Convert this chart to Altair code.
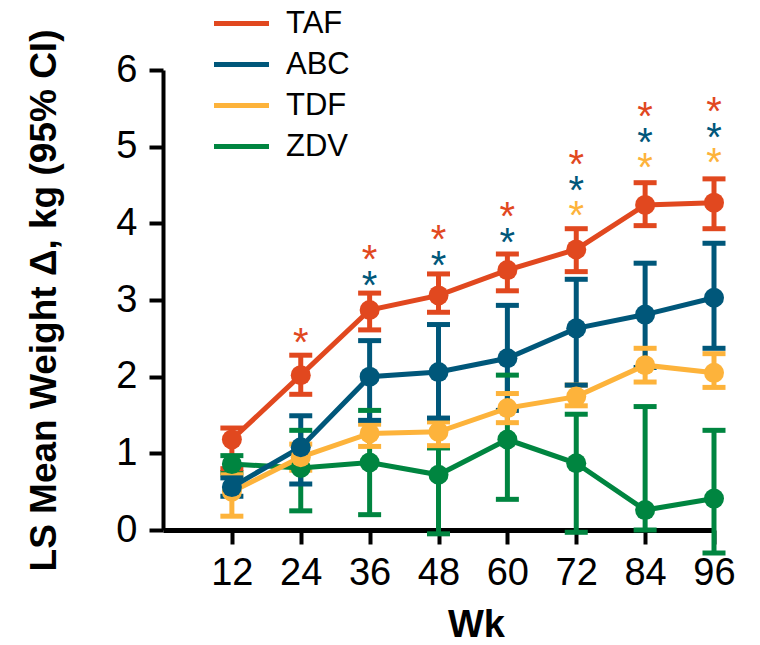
import altair as alt
import pandas as pd

# ---- data ----
weeks = [12, 24, 36, 48, 60, 72, 84, 96]
series = ["TAF", "ABC", "TDF", "ZDV"]
colors = ["#E1481F", "#00577A", "#FDB33B", "#008540"]

taf_mean = [1.18, 2.02, 2.87, 3.06, 3.39, 3.66, 4.24, 4.27]
taf_lo = [0.80, 1.77, 2.61, 2.84, 3.12, 3.37, 3.97, 3.93]
taf_hi = [1.33, 2.28, 3.09, 3.34, 3.60, 3.93, 4.53, 4.58]

abc_mean = [0.56, 1.08, 2.00, 2.06, 2.24, 2.63, 2.81, 3.03]
abc_lo = [0.44, 0.60, 1.43, 1.46, 1.56, 1.89, 2.12, 2.37]
abc_hi = [0.68, 1.49, 2.47, 2.68, 2.93, 3.27, 3.48, 3.74]

tdf_mean = [0.50, 0.95, 1.26, 1.28, 1.59, 1.74, 2.15, 2.05]
tdf_lo = [0.18, 0.78, 1.09, 1.10, 1.40, 1.62, 1.93, 1.86]
tdf_hi = [0.72, 1.12, 1.38, 1.41, 1.78, 1.89, 2.37, 2.30]

zdv_mean = [0.86, 0.81, 0.88, 0.72, 1.18, 0.87, 0.26, 0.41]
zdv_lo = [0.75, 0.25, 0.20, -0.05, 0.40, -0.03, 0.00, -0.30]
zdv_hi = [0.97, 1.30, 1.56, 1.07, 2.02, 1.51, 1.61, 1.30]

# significance asterisks
ast_wk = [24, 36, 36, 48, 48, 60, 60, 72, 72, 72, 84, 84, 84, 96, 96, 96]
ast_series = ["TAF", "TAF", "ABC", "TAF", "ABC", "TAF", "ABC",
              "TAF", "ABC", "TDF", "TAF", "ABC", "TDF", "TAF", "ABC", "TDF"]
ast_y = [2.57, 3.65, 3.31, 3.91, 3.57, 4.21, 3.87,
         4.89, 4.55, 4.23, 5.52, 5.18, 4.85, 5.58, 5.24, 4.92]

y_ticks = [0, 1, 2, 3, 4, 5, 6]

# ---- build tables ----
zorder = {"ZDV": 0, "TDF": 1, "ABC": 2, "TAF": 3}
rows = []
for name, m, lo, hi in [("TAF", taf_mean, taf_lo, taf_hi),
                        ("ABC", abc_mean, abc_lo, abc_hi),
                        ("TDF", tdf_mean, tdf_lo, tdf_hi),
                        ("ZDV", zdv_mean, zdv_lo, zdv_hi)]:
    for w, a, b, c in zip(weeks, m, lo, hi):
        rows.append({"wk": w, "series": name, "mean": a, "lo": b, "hi": c,
                     "z": zorder[name]})
df = pd.DataFrame(rows).sort_values("z")

caps = pd.concat([
    df[["wk", "series", "z"]].assign(v=df["lo"]),
    df[["wk", "series", "z"]].assign(v=df["hi"]),
]).sort_values("z")

ast = pd.DataFrame({"wk": ast_wk, "series": ast_series, "y": ast_y})

FONT = "Liberation Sans"
W = 551
H = 460

xscale = alt.Scale(domain=[0, 96], nice=False, zero=False)
yscale = alt.Scale(domain=[0, 6], nice=False)
# legend scale (line layer) and an equivalent mark scale for the other layers
cscale = alt.Scale(domain=series, range=colors)
mscale = alt.Scale(domain=series[::-1], range=colors[::-1])

xaxis = alt.Axis(values=weeks, title="Wk", titleFont=FONT, titleFontSize=38,
                 titleFontWeight="bold", titleX=313, titleY=106,
                 titleBaseline="alphabetic", titleAlign="center",
                 labelFont=FONT, labelFontSize=38, labelColor="black",
                 labelPadding=10, tickSize=14, tickWidth=4, tickColor="black",
                 domainWidth=5, domainColor="black", grid=False,
                 labelFlush=False, labelOverlap=False, format="d")
yaxis = alt.Axis(values=y_ticks, title="LS Mean Weight Δ, kg (95% CI)",
                 titleFont=FONT, titleFontSize=37, titleFontWeight="bold",
                 titleAngle=270, titleX=-108, titleY=230,
                 titleBaseline="alphabetic", titleAlign="center",
                 labelFont=FONT, labelFontSize=38, labelColor="black",
                 labelPadding=12, tickSize=14, tickWidth=4, tickColor="black",
                 domainWidth=4, domainColor="black", grid=False,
                 labelFlush=False, labelOverlap=False, format="d")

bars = alt.Chart(df).mark_rule(strokeWidth=5, strokeCap="butt").encode(
    x=alt.X("wk:Q", scale=xscale, axis=xaxis),
    y=alt.Y("lo:Q", scale=yscale, axis=yaxis),
    y2="hi:Q",
    stroke=alt.Stroke("series:N", scale=mscale, legend=None),
    order="z:Q",
)

capmark = alt.Chart(caps).mark_rule(strokeWidth=5, strokeCap="butt",
                                    xOffset=-11.5, x2Offset=11.5).encode(
    x=alt.X("wk:Q", scale=xscale),
    x2="wk:Q",
    y=alt.Y("v:Q", scale=yscale),
    stroke=alt.Stroke("series:N", scale=mscale, legend=None),
    order="z:Q",
)

lines = alt.Chart(df).mark_line(strokeWidth=5).encode(
    x=alt.X("wk:Q", scale=xscale),
    y=alt.Y("mean:Q", scale=yscale),
    color=alt.Color("series:N", scale=cscale,
                    legend=alt.Legend(
                        title=None, orient="none", legendX=63, legendY=-62,
                        symbolType="M-2.75,0H2.75", symbolSize=400,
                        symbolStrokeWidth=5, labelFont=FONT,
                        labelFontSize=31, labelColor="black",
                        labelOffset=29, rowPadding=9, padding=0,
                    )),
    detail="series:N",
)

points = alt.Chart(df).mark_point(filled=True, size=400, opacity=1).encode(
    x=alt.X("wk:Q", scale=xscale),
    y=alt.Y("mean:Q", scale=yscale),
    fill=alt.Fill("series:N", scale=mscale, legend=None),
    order="z:Q",
)

stars = alt.Chart(ast).mark_text(text="*", font=FONT, fontSize=40,
                                 baseline="middle", align="center",
                                 dy=11).encode(
    x=alt.X("wk:Q", scale=xscale),
    y=alt.Y("y:Q", scale=yscale),
    fill=alt.Fill("series:N", scale=mscale, legend=None),
)

chart = alt.layer(bars, capmark, lines, points, stars).properties(
    width=W, height=H, background="white",
    autosize=alt.AutoSizeParams(type="none"),
    padding={"left": 155, "top": 62, "right": 38, "bottom": 115},
).configure_view(strokeWidth=0)

chart.save("out.html", embed_options={"renderer": "svg", "actions": False})
